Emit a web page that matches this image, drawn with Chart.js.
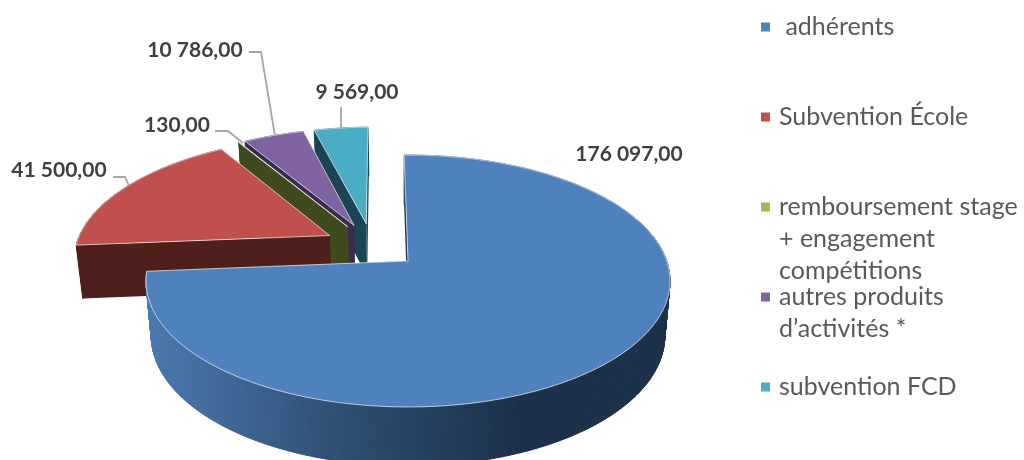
<!DOCTYPE html>
<html>
<head>
<meta charset="utf-8">
<style>
html, body { margin: 0; background: #fff; overflow: hidden; }
canvas { display: block; }
</style>
<script src="https://cdn.jsdelivr.net/npm/chart.js@4"></script>
</head>
<body>
<canvas id="chart-area" width="1024" height="460"></canvas>
<script>
var categories = [' adhérents', 'Subvention École', ['remboursement stage', '+ engagement', 'compétitions'], ['autres produits', 'd’activités *'], 'subvention FCD'];
var values = [176097, 41500, 130, 10786, 9569];
var topColors = ['#4f81bd', '#c0504d', '#9bbb59', '#8064a2', '#4bacc6'];
var sideColors = ['#1c3049', '#4f1f1b', '#3f4b1f', '#3a2a50', '#1b4553'];

// label box: x, y (text centre), anchor. leader: elbow points, then the slice edge
var labelPlaces = [
    {x: 629, y: 154, leader: null},
    {x: 59, y: 170, leader: [[113, 177], [125, 177], [129, 186]]},
    {x: 177, y: 125, leader: [[215, 131], [228, 131], [243, 143]]},
    {x: 195, y: 50, leader: [[249, 52], [261, 52], [275, 136]]},
    {x: 357, y: 92, leader: [[341, 107], [341, 129]]}
];
var legendY = [27, 117, 207, 297, 387];

// perspective of the disc, calibrated so the blue apex sits at CX, CY
var CX = 408, CY = 261, RX = 258.7, B = 122.8, K = -0.1587, DEPTH = 54;

var formatValue = function (v) {
    return v.toFixed(2).replace('.', ',').replace(/\B(?=(\d{3})+(?!\d))/, ' ');
};

var project = function (u, v, z) {
    var w = 1 + K * v;
    return {
        x: CX + RX * u * (1 - 0.02 * z) / w,
        y: CY + B * v / w + z * DEPTH / Math.sqrt(w)
    };
};

var pie3d = {
    id: 'pie3d',
    beforeDatasetsDraw: function (chart) {
        var ctx = chart.ctx;
        var arcs = chart.getDatasetMeta(0).data;
        var midOf = function (arc) { return (arc.startAngle + arc.endAngle) / 2; };
        var explode = function (arc) { return arc.options.offset / arc.outerRadius; };
        var baseU = -explode(arcs[0]) * Math.cos(midOf(arcs[0]));
        var baseV = -explode(arcs[0]) * Math.sin(midOf(arcs[0]));

        var drawOrder = [4, 3, 2, 1, 0];
        drawOrder.forEach(function (i) {
            var arc = arcs[i];
            var mid = midOf(arc);
            var ou = baseU + explode(arc) * Math.cos(mid);
            var ov = baseV + explode(arc) * Math.sin(mid);
            var point = function (a, z) {
                return project(ou + Math.cos(a), ov + Math.sin(a), z);
            };
            var apex = function (z) { return project(ou, ov, z); };
            var angles = [];
            var steps = Math.max(2, Math.ceil((arc.endAngle - arc.startAngle) / 0.01));
            for (var s = 0; s <= steps; s++) angles.push(arc.startAngle + (arc.endAngle - arc.startAngle) * s / steps);

            var fillPath = function (points, fill) {
                ctx.beginPath();
                points.forEach(function (p, n) {
                    if (n == 0) ctx.moveTo(p.x, p.y); else ctx.lineTo(p.x, p.y);
                });
                ctx.closePath();
                ctx.fillStyle = fill;
                ctx.fill();
            };

            // cut faces
            fillPath([apex(0), point(arc.startAngle, 0), point(arc.startAngle, 1), apex(1)], sideColors[i]);
            fillPath([apex(0), point(arc.endAngle, 0), point(arc.endAngle, 1), apex(1)], sideColors[i]);

            // rim, one quad per step so back and front do not cancel out
            var rimFill = sideColors[i];
            if (i == 0) {
                rimFill = ctx.createLinearGradient(150, 0, 520, 0);
                rimFill.addColorStop(0, '#4a79ae');
                rimFill.addColorStop(0.5, '#2f4f75');
                rimFill.addColorStop(1, sideColors[0]);
            }
            ctx.strokeStyle = rimFill;
            ctx.lineWidth = 1;
            for (var q = 0; q < angles.length - 1; q++) {
                fillPath([point(angles[q], 0), point(angles[q + 1], 0), point(angles[q + 1], 1), point(angles[q], 1)], rimFill);
                ctx.stroke();
            }

            // top face
            var top = [apex(0)].concat(angles.map(function (a) { return point(a, 0); }));
            fillPath(top, topColors[i]);
            ctx.strokeStyle = 'rgba(255,255,255,0.65)';
            ctx.lineWidth = 1;
            ctx.stroke();
        });
        return false;
    },
    afterDraw: function (chart) {
        var ctx = chart.ctx;
        ctx.save();

        // leaders
        ctx.strokeStyle = '#a6a6a6';
        ctx.lineWidth = 1.8;
        labelPlaces.forEach(function (place) {
            if (!place.leader) return;
            ctx.beginPath();
            place.leader.forEach(function (p, n) {
                if (n == 0) ctx.moveTo(p[0], p[1]); else ctx.lineTo(p[0], p[1]);
            });
            ctx.stroke();
        });

        // value labels
        ctx.font = 'bold 21px Lato';
        ctx.fillStyle = '#404040';
        ctx.textAlign = 'center';
        ctx.textBaseline = 'middle';
        labelPlaces.forEach(function (place, i) {
            ctx.fillText(formatValue(values[i]), place.x, place.y);
        });

        // legend
        ctx.textAlign = 'left';
        ctx.font = '25px Lato';
        categories.forEach(function (cat, i) {
            var lines = Array.isArray(cat) ? cat : [cat];
            ctx.fillStyle = topColors[i];
            ctx.fillRect(761, legendY[i] - 4.5, 9, 9);
            ctx.fillStyle = '#595959';
            lines.forEach(function (line, n) {
                ctx.fillText(line, 779, legendY[i] + n * 32);
            });
        });
        ctx.restore();
    }
};

var config = {
    type: 'pie',
    data: {
        labels: categories,
        datasets: [{
            data: values,
            backgroundColor: topColors,
            offset: 40
        }]
    },
    options: {
        responsive: false,
        animation: false,
        rotation: -1,
        layout: {padding: 0},
        plugins: {legend: {display: false}, tooltip: {enabled: false}}
    },
    plugins: [pie3d]
};
var ctx = document.getElementById('chart-area').getContext('2d');
var myPie = new Chart(ctx, config);
</script>
</body>
</html>
